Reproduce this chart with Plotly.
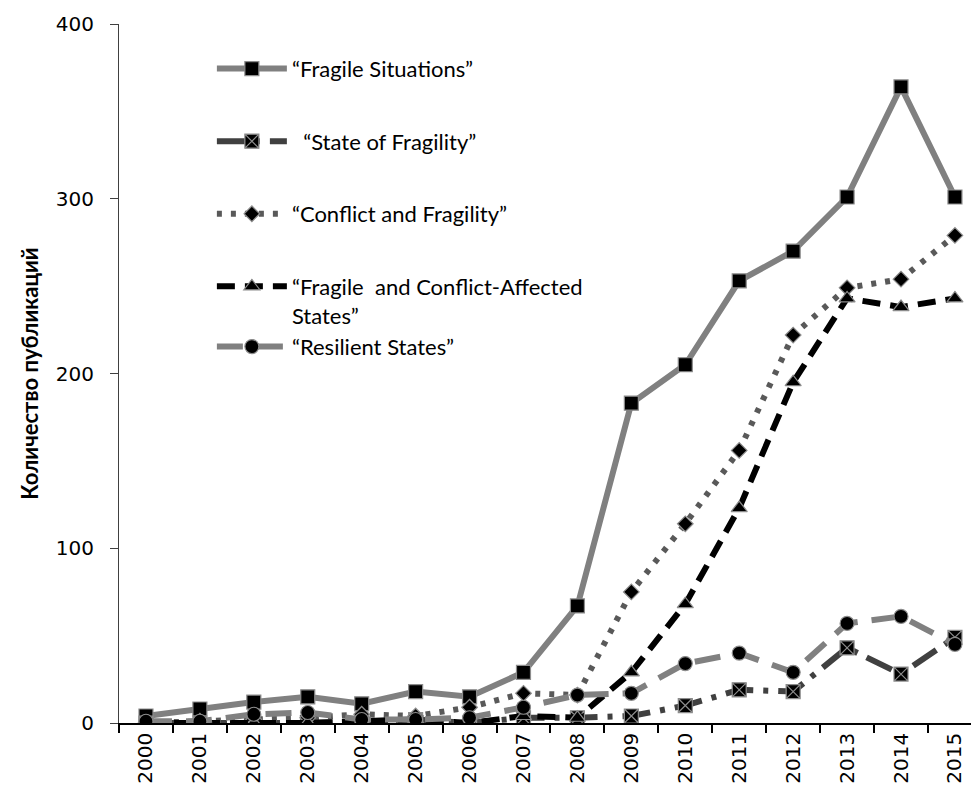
import plotly.graph_objects as go

years = [str(y) for y in range(2000, 2016)]

fragile_situations = [4, 8, 12, 15, 11, 18, 15, 29, 67, 183, 205, 253, 270, 301, 364, 301]
state_of_fragility = [0, 0, 0, 0, 1, 2, 0, 3, 3, 4, 10, 19, 18, 43, 28, 49]
conflict_fragility = [0, 1, 2, 3, 5, 4, 9, 17, 16, 75, 114, 156, 222, 249, 254, 279]
fcas = [0, 0, 0, 0, 1, 2, 0, 4, 3, 29, 68, 123, 195, 243, 238, 243]
resilient_states = [1, 1, 5, 6, 2, 2, 3, 9, 16, 17, 34, 40, 29, 57, 61, 45]

names = [
    "\u201cFragile Situations\u201d",
    "\u00a0\u00a0\u201cState of Fragility\u201d",
    "\u201cConflict and Fragility\u201d",
    "\u201cFragile  and Conflict-Affected<br>States\u201d",
    "\u201cResilient States\u201d",
]

fig = go.Figure()

styles = [
    dict(series=fragile_situations, color="#808080", dash="solid", symbol="square", size=14, grp="g0"),
    dict(series=state_of_fragility, color="#404040", dash="28px,10px,5px,10px", symbol="square-x", size=14, grp="g1"),
    dict(series=conflict_fragility, color="#595959", dash="5px,9px", symbol="diamond", size=12, grp="g2"),
    dict(series=fcas, color="#000000", dash="18px,10px", symbol="triangle-up", size=14, grp="g3"),
    dict(series=resilient_states, color="#808080", dash="26px,14px", symbol="circle", size=14, grp="g3"),
]

for nm, st in zip(names, styles):
    fig.add_trace(go.Scatter(
        x=years, y=st["series"], name=nm, mode="lines+markers",
        legendgroup=st["grp"],
        line=dict(color=st["color"], width=6, dash=st["dash"]),
        marker=dict(symbol=st["symbol"], size=st["size"], color="#000000",
                    line=dict(color="#8c8c8c", width=1.2)),
    ))

fig.update_layout(
    width=979, height=791,
    margin=dict(l=111, r=8, t=16, b=76),
    plot_bgcolor="white", paper_bgcolor="white",
    showlegend=True,
    legend=dict(
        x=0.108, y=0.966, xanchor="left", yanchor="top",
        bgcolor="rgba(0,0,0,0)", borderwidth=0,
        font=dict(family="Lato", size=22, color="#000000"),
        tracegroupgap=41, valign="top", itemwidth=70,
    ),
    xaxis=dict(
        type="category", range=[-0.5, 15.446], automargin=False,
        showline=True, linecolor="#000000", linewidth=1.5,
        ticks="outside", tickson="boundaries", ticklen=8, tickcolor="#000000", tickwidth=1.5,
        tickangle=-90, tickfont=dict(family="DejaVu Sans", size=20, color="#000000"),
        showgrid=False, zeroline=False,
    ),
    yaxis=dict(
        range=[0, 400], tickvals=[0, 100, 200, 300, 400], automargin=False,
        showline=True, linecolor="#404040", linewidth=1.2,
        ticks="outside", ticklen=8, tickcolor="#404040",
        ticklabelstandoff=12,
        tickfont=dict(family="DejaVu Sans", size=20, color="#000000"),
        showgrid=False, zeroline=False,
        title=dict(text="<b>Количество публикаций</b>",
                   font=dict(family="Liberation Sans Narrow, Lato", size=22, color="#000000"),
                   standoff=11),
    ),
)

fig.write_html("out.html")
